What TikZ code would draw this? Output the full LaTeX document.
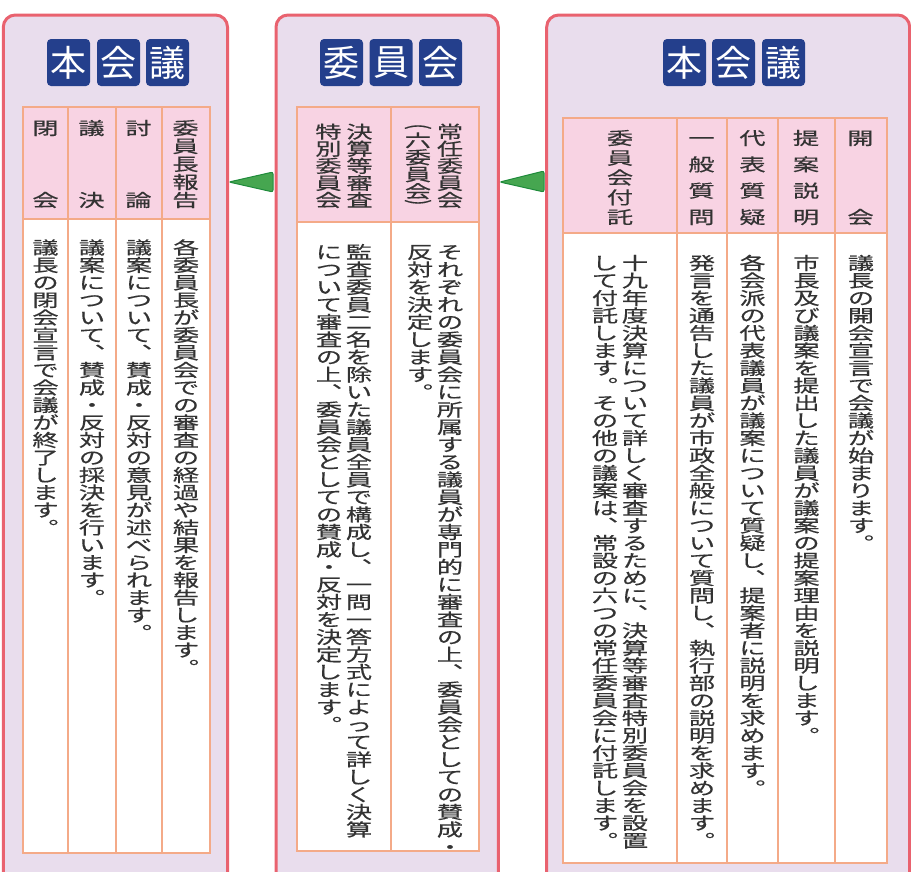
\documentclass[tikz,border=0pt]{standalone}
\usepackage{fontspec}
\usepackage{graphicx}
\newfontfamily\jp{Noto Sans CJK JP}
\newfontfamily\jpbody[FakeBold=0.35]{Noto Sans CJK JP}
\definecolor{panelred}{HTML}{E9626F}
\definecolor{panelbg}{HTML}{E9DDED}
\definecolor{titleblue}{HTML}{243F8C}
\definecolor{headpink}{HTML}{F8D3E3}
\definecolor{gridline}{HTML}{F4AA88}
\definecolor{textgray}{HTML}{333333}
\definecolor{arrowgreen}{HTML}{46A650}
\definecolor{arrowedge}{HTML}{1F8B3B}

\ExplSyntaxOn
\cs_new_protected:Npn \tate_paren:n #1
  {
    \hbox_to_wd:nn {1.5em}
      { \hss \rule{0pt}{0.45em} \scalebox{1.5}[1]{\rotatebox[origin=c]{-90}{#1}} \hss }
  }
\cs_new_protected:Npn \tate_char:n #1
  {
    \str_case:nnF {#1}
      {
        {(} { \tate_paren:n {(} }
        {)} { \tate_paren:n {)} }
      }
      {
        \hbox_to_wd:nn {1.5em}
          { \hss \rule[-0.12em]{0pt}{1em} \scalebox{1.5}[1]{#1} \hss }
      }
  }
\NewDocumentCommand \tate { m }
  { \vbox { \offinterlineskip \tl_map_function:nN {#1} \tate_char:n } }
\NewDocumentCommand \tatefill { m m }
  {
    \vbox to #1
      {
        \offinterlineskip
        \vskip 0pt plus -1fil
        \tl_map_inline:nn {#2} { \vss \tate_char:n {##1} }
      }
  }
\ExplSyntaxOff

\begin{document}
\begin{tikzpicture}[x=1pt,y=-1pt,
    panel/.style={draw=panelred,line width=3pt,fill=panelbg,rounded corners=12pt,
      minimum height=1000pt,anchor=north west,inner sep=0pt,outer sep=0pt},
    titlebox/.style={fill=titleblue,rounded corners=4pt,minimum width=43pt,
      minimum height=47pt,inner sep=0pt,text=white,font=\jp\fontsize{36}{36}\selectfont},
    gridpen/.style={draw=gridline,line width=1.6pt},
    headtext/.style={inner sep=0pt,text=textgray,font=\jpbody\fontsize{17.5}{17.5}\selectfont},
    bodytext/.style={headtext,anchor=north},
    pointer/.style={fill=arrowgreen,draw=arrowedge,line width=1pt,rounded corners=2pt}]
  \useasboundingbox (0,0) rectangle (911,871);
  \clip (0,0) rectangle (911,871);

  \node[panel,minimum width=224.2pt] (p1) at (3.3,15) {};
  \node[panel,minimum width=222.3pt] (p2) at (276,15) {};
  \node[panel,minimum width=363pt] (p3) at (546.7,15) {};

  \draw[pointer] ([xshift=1.5pt,yshift=-167pt]p1.north east)
    -- ([xshift=-3pt,yshift=-157pt]p2.north west)
    -- ([xshift=-3pt,yshift=-177pt]p2.north west) -- cycle;
  \draw[pointer] ([xshift=1.5pt,yshift=-167pt]p2.north east)
    -- ([xshift=-2.7pt,yshift=-156pt]p3.north west)
    -- ([xshift=-2.7pt,yshift=-177pt]p3.north west) -- cycle;

  \node[titlebox] (a1) at (68.5,62.5) {本};
  \node[titlebox] (a2) at (118.5,62.5) {会};
  \node[titlebox] (a3) at (167.5,62.5) {議};
  \node[titlebox] (b1) at (341.5,62.5) {委};
  \node[titlebox] (b2) at (391,62.5) {員};
  \node[titlebox] (b3) at (440.5,62.5) {会};
  \node[titlebox] (c1) at (684.5,62.5) {本};
  \node[titlebox] (c2) at (733.5,62.5) {会};
  \node[titlebox] (c3) at (783.5,62.5) {議};

  \fill[headpink] (23,107) rectangle (210,219);
  \fill[white] (23,219) rectangle (210,853);
  \draw[gridpen] (23,107) rectangle (210,853) (23,219) -- (210,219)
    (68,107) -- (68,853) (116,107) -- (116,853) (162,107) -- (162,853);

  \fill[headpink] (297,107) rectangle (479,222);
  \fill[white] (297,222) rectangle (479,851);
  \draw[gridpen] (297,107) rectangle (479,851) (297,222) -- (479,222)
    (391,107) -- (391,851);

  \fill[headpink] (563,118) rectangle (887,233);
  \fill[white] (563,233) rectangle (887,863);
  \draw[gridpen] (563,118) rectangle (887,863) (563,233) -- (887,233)
    (677,118) -- (677,863) (727,118) -- (727,863) (778,118) -- (778,863)
    (835,118) -- (835,863);

  \node[headtext] (h1) at (45.5,164) {\tatefill{87.4pt}{閉会}};
  \node[headtext] (h2) at (91.5,164) {\tatefill{87.4pt}{議決}};
  \node[headtext] (h3) at (138.5,164) {\tatefill{87.4pt}{討論}};
  \node[headtext] (h4) at (185.5,164) {\tatefill{87.4pt}{委員長報告}};
  \node[headtext] (h5) at (450,166) {\tatefill{83.4pt}{常任委員会}};
  \node[headtext] (h6) at (418,166) {\tatefill{83.4pt}{(六委員会)}};
  \node[headtext] (h7) at (359.5,166) {\tatefill{83.4pt}{決算等審査}};
  \node[headtext] (h8) at (328.5,166) {\tatefill{83.4pt}{特別委員会}};
  \node[headtext] (h9) at (620,177.5) {\tatefill{94.4pt}{委員会付託}};
  \node[headtext] (h10) at (701.5,177.5) {\tatefill{94.4pt}{一般質問}};
  \node[headtext] (h11) at (752.5,177.5) {\tatefill{94.4pt}{代表質疑}};
  \node[headtext] (h12) at (806,177.5) {\tatefill{94.4pt}{提案説明}};
  \node[headtext] (h13) at (860.5,177.5) {\tatefill{94.4pt}{開会}};

  \node[bodytext] (d1) at (186,238.5) {\tate{各委員長が委員会での審査の経過や結果を報告します︒}};
  \node[bodytext] (d2) at (139,238.5) {\tate{議案について︑賛成・反対の意見が述べられます︒}};
  \node[bodytext] (d3) at (92,238.5) {\tate{議案について︑賛成・反対の採決を行います︒}};
  \node[bodytext] (d4) at (45.5,238.5) {\tate{議長の閉会宣言で会議が終了します︒}};

  \node[bodytext] (e1) at (450,243) {\tate{それぞれの委員会に所属する議員が専門的に審査の上︑委員会としての賛成・}};
  \node[bodytext] (e2) at (420,243) {\tate{反対を決定します︒}};
  \node[bodytext] (e3) at (359,243) {\tate{監査委員二名を除いた議員全員で構成し︑一問一答方式によって詳しく決算}};
  \node[bodytext] (e4) at (329,243) {\tate{について審査の上︑委員会としての賛成・反対を決定します︒}};

  \node[bodytext] (f1) at (861,254) {\tate{議長の開会宣言で会議が始まります︒}};
  \node[bodytext] (f2) at (806.5,254) {\tate{市長及び議案を提出した議員が議案の提案理由を説明します︒}};
  \node[bodytext] (f3) at (752.5,254) {\tate{各会派の代表議員が議案について質疑し︑提案者に説明を求めます︒}};
  \node[bodytext] (f4) at (702,254) {\tate{発言を通告した議員が市政全般について質問し︑執行部の説明を求めます︒}};
  \node[bodytext] (f5) at (635,254) {\tate{十九年度決算について詳しく審査するために︑決算等審査特別委員会を設置}};
  \node[bodytext] (f6) at (605,254) {\tate{して付託します︒その他の議案は︑常設の六つの常任委員会に付託します︒}};
\end{tikzpicture}
\end{document}
